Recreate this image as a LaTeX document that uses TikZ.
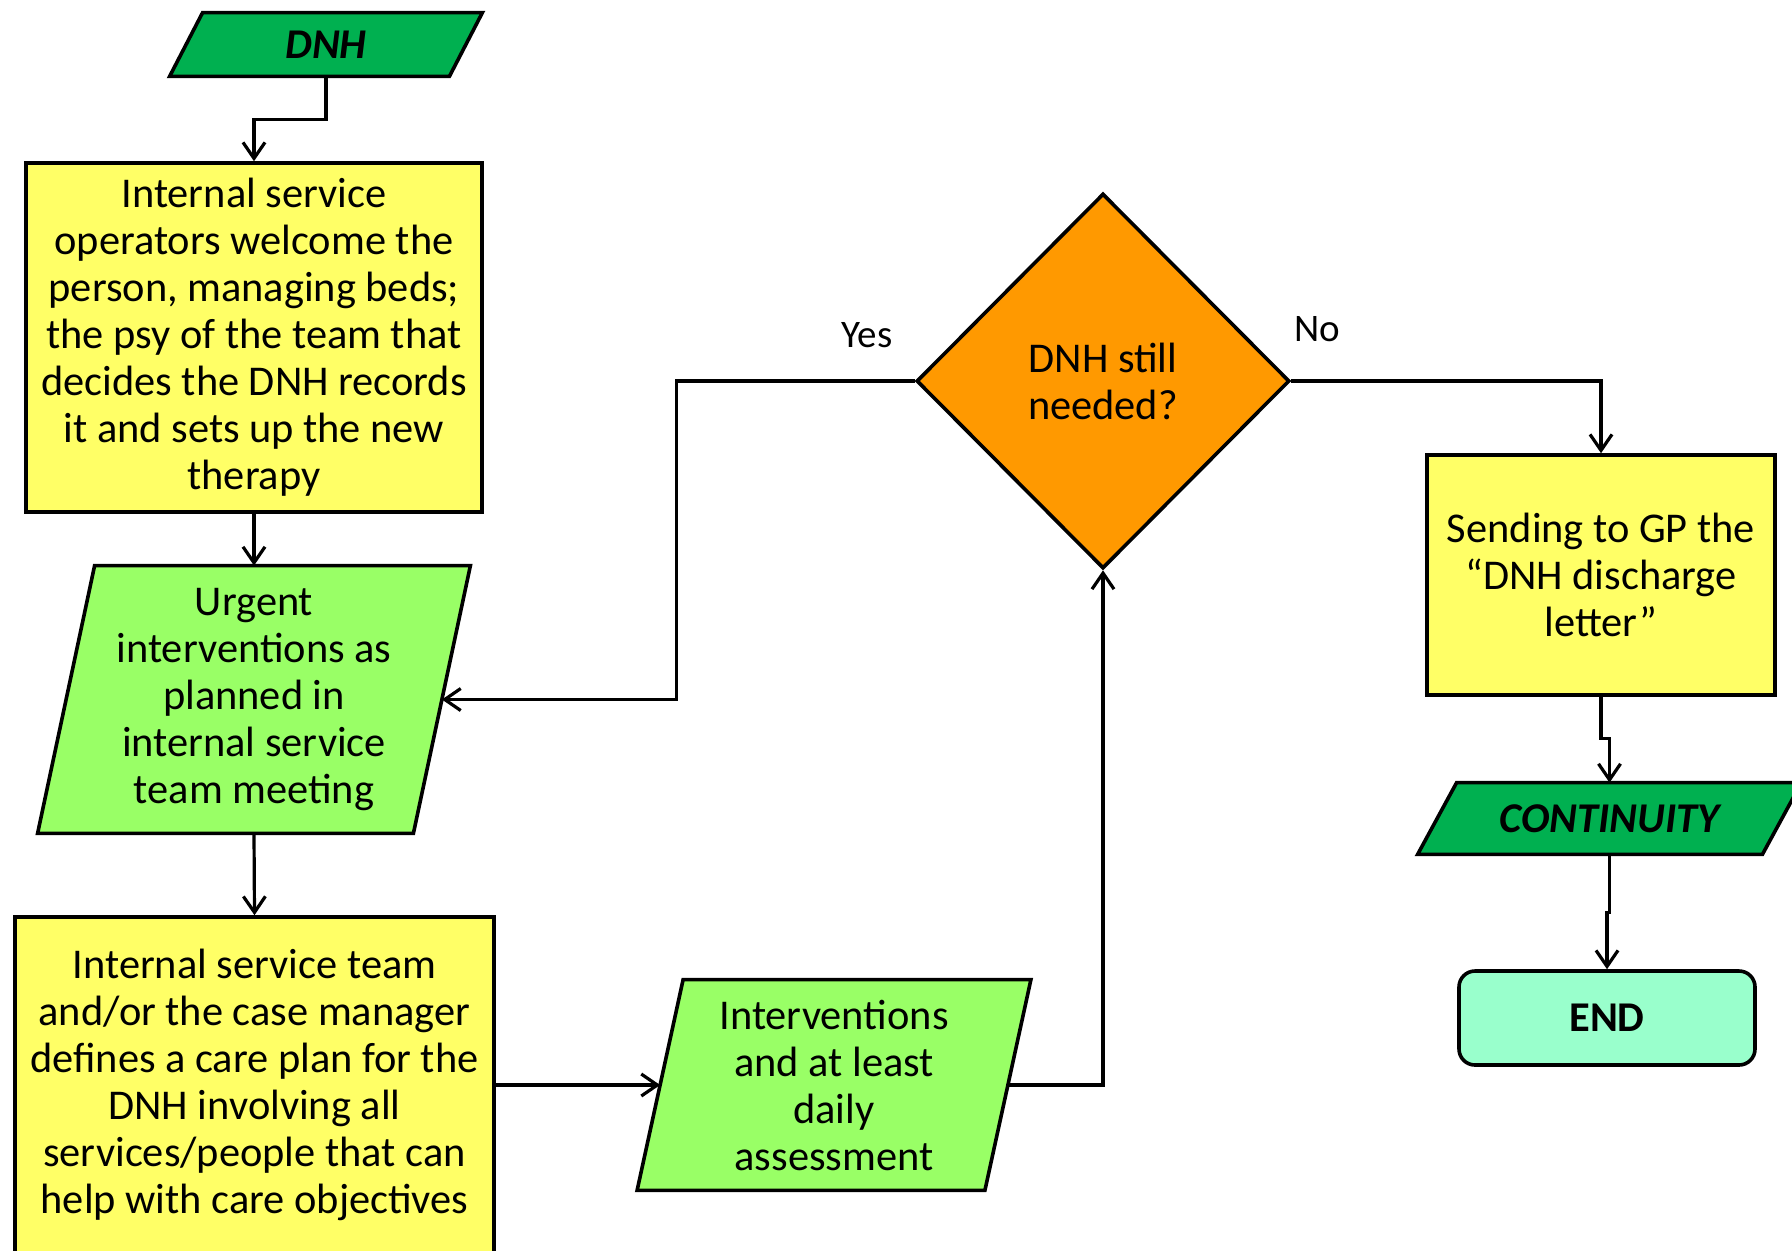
\documentclass[tikz,border=0pt]{standalone}
\usepackage{fontspec}
\setmainfont{Carlito}
\usepackage{tikz}
\usetikzlibrary{shapes.geometric,arrows.meta,positioning}
\pgfdeclarelayer{background}
\pgfsetlayers{background, main}
\definecolor{dgreen}{HTML}{00B050}
\definecolor{lgreen}{HTML}{99FF66}
\definecolor{byellow}{HTML}{FFFF66}
\definecolor{dorange}{HTML}{FF9900}
\definecolor{mint}{HTML}{99FFCC}
\newcommand{\boxfont}{\fontsize{21.2pt}{23.5pt}\selectfont}
\newcommand{\lblfont}{\fontsize{19.5pt}{23.5pt}\selectfont}
\tikzset{
    >={Straight Barb[length=8pt,width=11pt]},
    font=\boxfont,
    para/.style={
        rectangle,
        inner sep=0pt,
        align=center
    },
    terminal/.style={
        para,
        font=\boxfont\bfseries\itshape
    },
    paraline/.style={draw, line width=1.8pt},
    process/.style={
        rectangle,
        draw, line width=1.8pt,
        fill=byellow,
        inner sep=0pt,
        align=center
    },
    decision/.style={
        diamond, aspect=1,
        draw, line width=1.8pt,
        fill=dorange,
        inner sep=0pt,
        align=center
    },
    stopbox/.style={
        rectangle, rounded corners=8pt,
        draw, line width=1.8pt,
        fill=mint,
        font=\boxfont\bfseries
    },
    label/.style={font=\lblfont},
    line/.style={draw, line width=1.6pt, ->},
}

\begin{document}
\begin{tikzpicture}[x=0.5pt, y=-0.5pt]
        \path[use as bounding box] (0,0) rectangle (1792,1250);
        \clip (0,0) rectangle (1792,1250);

        \node [terminal, minimum width=156pt, minimum height=31.5pt] (0) at (326,44.5) {DNH};
        \node [process, minimum width=228pt, minimum height=174.5pt] (1) at (254,337.5)
            {Internal service\\operators welcome the\\person, managing beds;\\the psy of the team that\\decides the DNH records\\it and sets up the new\\therapy};
        \node [para, minimum width=216pt, minimum height=133.5pt] (2) at (254,699.5)
            {Urgent\\interventions as\\planned in\\internal service\\team meeting};
        \node [process, minimum width=239.5pt, minimum height=168pt] (3) at (254.5,1085)
            {Internal service team\\and/or the case manager\\defines a care plan for the\\DNH involving all\\services/people that can\\help with care objectives};
        \node [para, minimum width=196.5pt, minimum height=105pt] (4) at (834,1085)
            {Interventions\\and at least\\daily\\assessment};
        \node [decision, minimum width=186.5pt, minimum height=187.5pt] (5) at (1103,381)
            {DNH still\\needed?};
        \node [process, minimum width=174pt, minimum height=120pt] (6) at (1601,575)
            {Sending to GP the\\“DNH discharge\\letter”};
        \node [terminal, minimum width=191.5pt, minimum height=35.5pt] (7) at (1609.5,818.5) {CONTINUITY};
        \node [stopbox, minimum width=148pt, minimum height=47pt] (8) at (1607,1018) {END};

        \node [label] (yes) at (867,335) {Yes};
        \node [label] (no) at (1317,329) {No};

        \begin{pgfonlayer}{background}
            \draw [paraline, fill=dgreen] ([xshift=16.5pt]0.north west) -- (0.north east) -- ([xshift=-16.5pt]0.south east) -- (0.south west) -- cycle;
            \draw [paraline, fill=lgreen] ([xshift=28.5pt]2.north west) -- (2.north east) -- ([xshift=-28.5pt]2.south east) -- (2.south west) -- cycle;
            \draw [paraline, fill=lgreen] ([xshift=23pt]4.north west) -- (4.north east) -- ([xshift=-23pt]4.south east) -- (4.south west) -- cycle;
            \draw [paraline, fill=dgreen] ([xshift=19.5pt]7.north west) -- (7.north east) -- ([xshift=-19.5pt]7.south east) -- (7.south west) -- cycle;
        \end{pgfonlayer}

        \draw [line] (0.south) -- ++(0,43) -| (1.north);
        \draw [line] (1.south) -- (2.north);
        \draw [line] (2.south) -- (3.north);
        \draw [line] (3.east) -- ([xshift=11.5pt]4.west);
        \draw [line] ([xshift=-11.5pt]4.east) -| (5.south);
        \draw [line] (5.west) -- ++(-238,0) |- ([xshift=-14.25pt]2.east);
        \draw [line] (5.east) -| (6.north);
        \draw [line] (6.south) -- ++(0,42) -| (7.north);
        \draw [line] (7.south) -- ++(0,58) -| (8.north);
      \end{tikzpicture}
\end{document}
